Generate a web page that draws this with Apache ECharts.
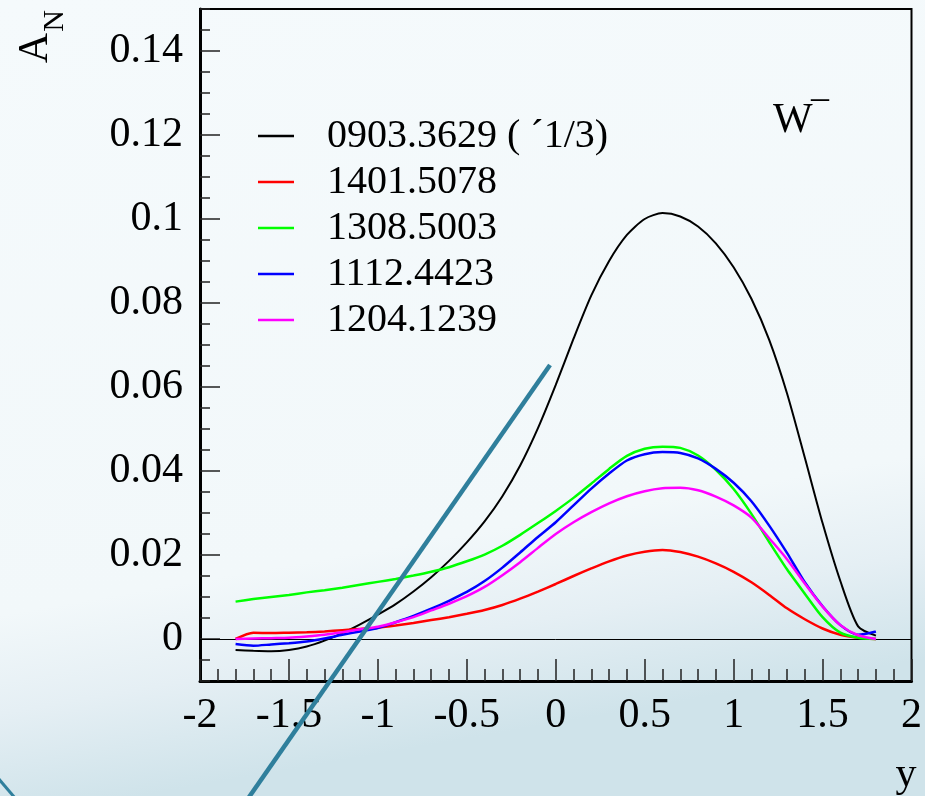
<!DOCTYPE html>
<html>
<head>
<meta charset="utf-8">
<script src="https://cdn.jsdelivr.net/npm/echarts@6/dist/echarts.min.js"></script>
<style>
html,body{margin:0;padding:0;width:925px;height:796px;overflow:hidden;}
#chart{width:925px;height:796px;}
</style>
</head>
<body>
<div id="chart"></div>
<script>
// ---- data ----
const xValues = [-1.8,-1.7,-1.6,-1.5,-1.4,-1.3,-1.2,-1.1,-1.0,-0.9,-0.8,-0.7,-0.6,-0.5,-0.4,-0.3,-0.2,-0.1,0.0,
                 0.1,0.2,0.3,0.4,0.5,0.6,0.7,0.8,0.9,1.0,1.1,1.2,1.3,1.4,1.5,1.6,1.7,1.8];
const seriesNames = ['0903.3629 ( \u00b41/3)','1401.5078','1308.5003','1112.4423','1204.1239'];
const seriesColors = ['#000000','#ff0000','#00ff00','#0000ff','#ff00ff'];
const black = [-0.0026,-0.0028,-0.0029,-0.0026,-0.0018,-0.0004,0.0014,0.0035,0.0058,0.0083,0.0113,0.0147,0.0186,0.0230,0.0280,0.0340,0.0413,0.0502,
               0.0605,0.0715,0.0818,0.0900,0.0962,0.1000,0.1014,0.1006,0.0982,0.0942,0.0885,0.0810,0.0712,0.0585,0.0432,0.0276,0.0138,0.0030,0.0008];
const red   = [0.0000,0.0015,0.0014,0.0015,0.0016,0.0018,0.0021,0.0024,0.0027,0.0032,0.0038,0.0045,0.0052,0.0060,0.0069,0.0081,0.0096,0.0113,
               0.0131,0.0150,0.0168,0.0185,0.0199,0.0208,0.0212,0.0207,0.0196,0.0180,0.0160,0.0135,0.0105,0.0073,0.0047,0.0025,0.0010,0.0003,0.0000];
const green = [0.0089,0.0095,0.0100,0.0105,0.0111,0.0116,0.0122,0.0129,0.0136,0.0143,0.0151,0.0160,0.0171,0.0185,0.0201,0.0222,0.0248,0.0276,
               0.0305,0.0336,0.0370,0.0405,0.0436,0.0453,0.0458,0.0455,0.0437,0.0403,0.0357,0.0298,0.0231,0.0166,0.0108,0.0052,0.0015,0.0003,0.0000];
const blue  = [-0.0012,-0.0016,-0.0013,-0.0010,-0.0006,0.0001,0.0010,0.0018,0.0026,0.0040,0.0055,0.0072,0.0091,0.0112,0.0138,0.0170,0.0206,0.0243,
               0.0278,0.0318,0.0358,0.0394,0.0425,0.0440,0.0445,0.0443,0.0430,0.0405,0.0372,0.0328,0.0270,0.0205,0.0135,0.0078,0.0033,0.0010,0.0018];
const magenta = [0.0000,0.0001,0.0002,0.0003,0.0006,0.0010,0.0016,0.0023,0.0029,0.0040,0.0052,0.0068,0.0084,0.0102,0.0124,0.0152,0.0183,0.0217,
               0.0250,0.0278,0.0302,0.0323,0.0340,0.0352,0.0359,0.0360,0.0354,0.0339,0.0318,0.0289,0.0240,0.0190,0.0132,0.0077,0.0033,0.0009,0.0000];
const yTickLabels = [0,0.02,0.04,0.06,0.08,0.1,0.12,0.14];
const xTickLabels = [-2,-1.5,-1,-0.5,0,0.5,1,1.5,2];

const FONT = 'Liberation Serif';
const allSeries = [black, red, green, blue, magenta];

const chart = echarts.init(document.getElementById('chart'), null, {renderer:'canvas'});
const series = allSeries.map((vals, i) => ({
  name: seriesNames[i],
  type: 'line',
  data: xValues.map((x, k) => [x, vals[k]]),
  showSymbol: false,
  smooth: 0.25,
  color: seriesColors[i],
  lineStyle: {color: seriesColors[i], width: i === 0 ? 2 : 2.5},
  itemStyle: {color: seriesColors[i]},
  z: 3 + i,
  markLine: i === 0 ? {
    silent: true, symbol: 'none', label: {show: false},
    lineStyle: {color: '#000', width: 1, type: 'solid'},
    data: [{yAxis: 0}]
  } : undefined
}));

chart.setOption({
  animation: false,
  backgroundColor: {
    type: 'linear', x: 0, y: 0, x2: 0.15, y2: 1,
    colorStops: [
      {offset: 0, color: '#f5fafc'},
      {offset: 0.75, color: '#f2f8fa'},
      {offset: 0.87, color: '#e5eff4'},
      {offset: 1, color: '#cfe3ea'}
    ]
  },
  grid: {left: 200, right: 8, top: 9, bottom: 115, show: true, borderColor: '#000', borderWidth: 2, backgroundColor: 'transparent'},
  legend: {
    orient: 'vertical', left: 253, top: 108, itemGap: 0,
    icon: 'rect', itemWidth: 36, itemHeight: 2.5,
    data: seriesNames,
    textStyle: {fontFamily: FONT, fontSize: 40, color: '#000', lineHeight: 46, padding: [0,0,0,28]}
  },
  xAxis: {
    type: 'value', min: -2, max: 2, interval: 0.5,
    axisLine: {show: true, onZero: false, lineStyle: {color: '#000', width: 3}},
    axisTick: {show: true, inside: true, length: 22, lineStyle: {color: '#222', width: 1.5}},
    minorTick: {show: true, splitNumber: 5, length: 12, lineStyle: {color: '#222', width: 1.5}},
    splitLine: {show: false},
    axisLabel: {fontFamily: FONT, fontSize: 42, color: '#000', margin: 14,
      customValues: xTickLabels, showMinLabel: true, showMaxLabel: true}
  },
  yAxis: [{
    type: 'value', min: -0.01, max: 0.15, interval: 0.005,
    axisLine: {show: true, onZero: false, lineStyle: {color: '#000', width: 3}},
    axisTick: {show: true, inside: true, length: 10, lineStyle: {color: '#222', width: 1.5}},
    splitLine: {show: false},
    axisLabel: {fontFamily: FONT, fontSize: 42, color: '#000', margin: 17, customValues: yTickLabels}
  }, {
    type: 'value', min: -0.01, max: 0.15, interval: 0.005, position: 'left', offset: 0,
    axisLine: {show: false, onZero: false},
    axisTick: {show: true, inside: true, length: 20, customValues: yTickLabels, lineStyle: {color: '#222', width: 1.5}},
    axisLabel: {show: false},
    splitLine: {show: false}
  }],
  graphic: [
    {type: 'text', x: 36, y: 48, rotation: Math.PI / 2, z: 10,
     style: {text: 'A', fontFamily: FONT, fontSize: 42, fill: '#000', align: 'center', verticalAlign: 'middle'}},
    {type: 'text', x: 55, y: 21, rotation: Math.PI / 2, z: 10,
     style: {text: 'N', fontFamily: FONT, fontSize: 30, fill: '#000', align: 'center', verticalAlign: 'middle'}},
    {type: 'text', x: 773, y: 121, z: 10,
     style: {text: 'W', fontFamily: FONT, fontSize: 42, fill: '#000', align: 'left', verticalAlign: 'middle'}},
    {type: 'text', x: 811, y: 100, z: 10,
     style: {text: '\u2013', fontFamily: FONT, fontSize: 36, fill: '#000', align: 'left', verticalAlign: 'middle'}},
    {type: 'text', x: 906, y: 775, z: 10,
     style: {text: 'y', fontFamily: FONT, fontSize: 42, fill: '#000', align: 'center', verticalAlign: 'middle'}},
    {type: 'line', z: 20, shape: {x1: 550, y1: 365, x2: 247, y2: 800},
     style: {stroke: '#2f7f9c', lineWidth: 4.5}},
    {type: 'line', z: 20, shape: {x1: -2, y1: 778, x2: 15, y2: 798},
     style: {stroke: '#2f7f9c', lineWidth: 3}}
  ],
  series: series
});
</script>
</body>
</html>
